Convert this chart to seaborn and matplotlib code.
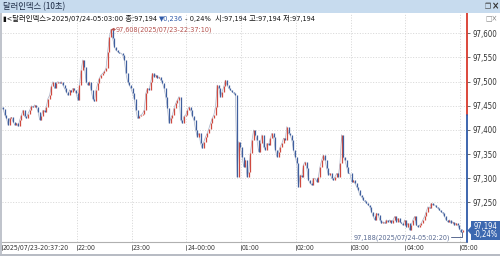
import numpy as np
import pandas as pd
import matplotlib
matplotlib.use("Agg")
import matplotlib.pyplot as plt
import seaborn as sns
from matplotlib.patches import Rectangle, Polygon
from matplotlib.transforms import blended_transform_factory, offset_copy

# ---------------- data ----------------
title = "달러인덱스 (10초)"
info_parts = ["▮<달러인덱스>2025/07/24-05:03:00 종:97,194 ", "▼0,236", " - 0,24%  시:97,194 고:97,194 저:97,194"]
start_time = "2025-07-23 20:37:20"
end_time = "2025-07-24 05:03:00"
prev_close = 97.430
last_price = 97.194
last_change = "-0,24%"
high_value = 97.608
high_time = "2025-07-23 22:37:10"
high_label = "97,608(2025/07/23-22:37:10)"
low_value = 97.188
low_time = "2025-07-24 05:02:20"
low_label = "97,188(2025/07/24-05:02:20)"

prices = [
    # 20:37 - 22:27
    97.447, 97.443, 97.431, 97.424, 97.410, 97.424, 97.426, 97.417, 97.410, 97.414,
    97.408, 97.421, 97.431, 97.441, 97.428, 97.424, 97.434, 97.441, 97.450, 97.447,
    97.452, 97.447, 97.438, 97.421, 97.428, 97.441, 97.438, 97.448, 97.465, 97.472,
    97.490, 97.500, 97.486, 97.497, 97.500, 97.497, 97.500, 97.493, 97.486, 97.479,
    97.472, 97.483, 97.479, 97.486, 97.483, 97.476, 97.462, 97.493, 97.524, 97.545,
    97.531, 97.500, 97.493, 97.500, 97.483, 97.465, 97.459, 97.483, 97.497, 97.507,
    97.514, 97.517, 97.521, 97.528, 97.562, 97.593, 97.608, 97.590, 97.572, 97.565,
    97.562, 97.559, 97.559,
    # 22:27 - 00:32
    97.555, 97.545, 97.517, 97.500, 97.493, 97.486, 97.476, 97.465, 97.441, 97.424,
    97.428, 97.431, 97.434, 97.441, 97.476, 97.486, 97.483, 97.500, 97.517, 97.510,
    97.514, 97.507, 97.510, 97.503, 97.497, 97.486, 97.469, 97.445, 97.414, 97.424,
    97.431, 97.445, 97.455, 97.462, 97.469, 97.421, 97.414, 97.428, 97.431, 97.441,
    97.448, 97.441, 97.428, 97.421, 97.400, 97.386, 97.393, 97.372, 97.362, 97.376,
    97.386, 97.393, 97.403, 97.414, 97.424, 97.431, 97.448, 97.493, 97.486, 97.469,
    97.479, 97.490, 97.503, 97.493, 97.486, 97.483, 97.479, 97.476, 97.472,
    # 00:32 - 02:38
    97.303, 97.376, 97.365, 97.345, 97.324, 97.338, 97.303, 97.314, 97.352, 97.379,
    97.400, 97.390, 97.379, 97.355, 97.372, 97.390, 97.365, 97.359, 97.372, 97.369,
    97.383, 97.393, 97.386, 97.359, 97.345, 97.355, 97.365, 97.372, 97.383, 97.379,
    97.407, 97.393, 97.390, 97.379, 97.359, 97.345, 97.331, 97.283, 97.307, 97.303,
    97.328, 97.334, 97.321, 97.296, 97.290, 97.286, 97.300, 97.300, 97.293, 97.303,
    97.324, 97.338, 97.348, 97.338, 97.321, 97.307, 97.310, 97.300, 97.296, 97.303,
    97.310, 97.303, 97.331, 97.390, 97.345, 97.338, 97.324, 97.310, 97.310,
    # 02:38 - 05:03
    97.293, 97.296, 97.290, 97.283, 97.276, 97.265, 97.262, 97.255, 97.252, 97.248,
    97.245, 97.241, 97.231, 97.221, 97.214, 97.228, 97.224, 97.214, 97.207, 97.210,
    97.207, 97.214, 97.210, 97.214, 97.207, 97.214, 97.221, 97.210, 97.217, 97.210,
    97.207, 97.203, 97.214, 97.200, 97.207, 97.193, 97.203, 97.214, 97.221, 97.203,
    97.200, 97.203, 97.207, 97.214, 97.221, 97.231, 97.241, 97.238, 97.248, 97.245,
    97.245, 97.241, 97.238, 97.234, 97.231, 97.228, 97.221, 97.214, 97.210, 97.214,
    97.207, 97.210, 97.203, 97.207, 97.203, 97.196, 97.188, 97.194,
]

x_tick_times = ["2025-07-23 20:37:20", "2025-07-23 22:00", "2025-07-23 23:00", "2025-07-24 00:00",
                "2025-07-24 01:00", "2025-07-24 02:00", "2025-07-24 03:00", "2025-07-24 04:00",
                "2025-07-24 05:00"]
x_tick_labels = ["2025/07/23-20:37:20", "22:00", "23:00", "24-00:00", "01:00", "02:00",
                 "03:00", "04:00", "05:00"]
y_ticks = [97.250, 97.300, 97.350, 97.400, 97.450, 97.500, 97.550, 97.600]
y_tick_labels = ["97,250", "97,300", "97,350", "97,400", "97,450", "97,500", "97,550", "97,600"]

# ---------------- style ----------------
sns.set_theme(style="white")
plt.rcParams["font.family"] = ["DejaVu Sans", "Noto Sans CJK KR"]
plt.rcParams["font.stretch"] = "condensed"

W, H = 500, 256
fig = plt.figure(figsize=(W / 100, H / 100), dpi=100)
fig.patch.set_facecolor("white")

def fx(px):
    return px / W

def fy(py):
    return 1 - py / H

RED = "#d9392c"
BLUE = "#2f5aa8"
GRID = "#cfcfcf"

# title bar
fig.patches.append(Rectangle((0, fy(12.5)), 1, 12.5 / H, transform=fig.transFigure,
                             facecolor="#c7dbee", edgecolor="none", zorder=0))
fig.text(fx(3), fy(6.5), title, fontsize=6.0, color="#1c2a44", va="center", ha="left",
         family=["Noto Sans CJK KR", "DejaVu Sans"])
fig.text(fx(488), fy(6.5), "❐", fontsize=5.5, color="#333333", va="center", ha="center",
         family=["DejaVu Sans"])
fig.text(fx(496), fy(6.5), "×", fontsize=7, color="#333333", va="center", ha="center",
         fontweight="bold", family=["DejaVu Sans"])

# axes
ax_left, ax_right, ax_top, ax_bottom = 1.5, 467, 13, 242
ax = fig.add_axes([fx(ax_left), fy(ax_bottom), fx(ax_right - ax_left), (ax_bottom - ax_top) / H])
ax.set_facecolor("white")

times = pd.date_range(pd.Timestamp(start_time), pd.Timestamp(end_time), periods=len(prices))
df = pd.DataFrame({"time": times, "price": prices})
df["prev"] = df["price"].shift(1).fillna(df["price"].iloc[0])
df["dir"] = np.where(df["price"] >= df["prev"], "up", "down")

sns.lineplot(data=df, x="time", y="price", ax=ax, color="#a7b1c8", lw=0.5, zorder=2)
for d, c in (("up", "#cf4a40"), ("down", "#3f5f9e")):
    sub = df[df["dir"] == d]
    ax.vlines(sub["time"], sub["prev"], sub["price"], colors=c, lw=0.9, zorder=3)

t0 = pd.Timestamp(start_time)
ax.set_xlim(t0, t0 + pd.Timedelta(hours=8.506))
ymax = 97.600 + (33.3 - ax_top) / 483.3
ymin = 97.600 - (ax_bottom - 33.3) / 483.3
ax.set_ylim(ymin, ymax)

# grid
for yv in y_ticks:
    ax.axhline(yv, color=GRID, lw=0.6, ls=(0, (1.2, 2)), zorder=1)
for tt in x_tick_times[1:]:
    ax.axvline(pd.Timestamp(tt), color=GRID, lw=0.6, ls=(0, (1.2, 2)), zorder=1)

# y axis on right
ax.yaxis.tick_right()
ax.set_yticks(y_ticks)
ax.set_yticklabels(y_tick_labels)
ax.tick_params(axis="y", length=2.5, width=0.6, color="#555555", pad=1.5, labelsize=5.7,
               labelcolor="#333333", right=True, left=False)
ax.set_xticks([pd.Timestamp(t) for t in x_tick_times])
ax.set_xticklabels([])
ax.tick_params(axis="x", length=0)
ax.set_xlabel("")
ax.set_ylabel("")

for s in ("top", "right", "left"):
    ax.spines[s].set_visible(False)
ax.spines["bottom"].set_color("#b0b0b0")
ax.spines["bottom"].set_linewidth(0.8)

# x labels with small ticks
bt = blended_transform_factory(ax.transData, ax.transAxes)
for tt, lab in zip(x_tick_times, x_tick_labels):
    tx = pd.Timestamp(tt)
    ax.plot([tx, tx], [-0.012, -0.035], transform=bt, color="#666666", lw=0.6, clip_on=False)
    ax.text(tx, -0.028, lab, transform=offset_copy(bt, fig=fig, x=1.0, y=0, units="dots"),
            ha="left", va="center", fontsize=5.0, color="#333333", clip_on=False)

# right edge split line (above/below previous close)
xr = t0 + pd.Timedelta(hours=8.506)
ax.plot([xr, xr], [prev_close, ymax + 0.006], color=RED, lw=1.3, clip_on=False, zorder=5)
ax.plot([xr, xr], [ymin, prev_close], color=BLUE, lw=1.3, clip_on=False, zorder=5)

# high annotation
ht = pd.Timestamp(high_time)
ax.annotate("", xy=(ht, high_value), xytext=(ht + pd.Timedelta(minutes=5), high_value),
            arrowprops=dict(arrowstyle="-|>", color="#b5524e", lw=0.7, mutation_scale=4,
                            shrinkA=0, shrinkB=0), zorder=4)
ax.text(ht + pd.Timedelta(minutes=5.3), high_value, high_label, fontsize=5.2, color="#b5524e",
        va="center", ha="left", zorder=4)

# low annotation
lt = pd.Timestamp(low_time)
ly = 97.178
ax.plot([lt - pd.Timedelta(minutes=12), lt, lt], [ly, ly, low_value], color="#5a6b92", lw=0.7,
        zorder=4, clip_on=False)
ax.text(lt - pd.Timedelta(minutes=13), ly, low_label, fontsize=5.2, color="#5a6b92",
        va="center", ha="right", zorder=4)

# price box
box_top, box_bot = 221, 240
fig.patches.append(Rectangle((fx(471), fy(box_bot)), fx(500 - 471), (box_bot - box_top) / H,
                             transform=fig.transFigure, facecolor="#3c68b0", edgecolor="none", zorder=6))
fig.patches.append(Polygon([[fx(467.5), fy(230.5)], [fx(471.5), fy(226)], [fx(471.5), fy(235)]],
                           closed=True, transform=fig.transFigure, facecolor="#3c68b0",
                           edgecolor="none", zorder=6))
fig.text(fx(486), fy(226), f"{last_price:.3f}".replace(".", ","), fontsize=5.5, color="white",
         ha="center", va="center", zorder=7)
fig.text(fx(486), fy(235), last_change, fontsize=5.5, color="white", ha="center", va="center", zorder=7)

# small box icon top-right of chart
fig.text(fx(491), fy(18), "□×", fontsize=5.5, color="#888888", ha="center", va="center",
         family=["DejaVu Sans"])

# info line
renderer = fig.canvas.get_renderer()
xpos = fx(3)
colors = ["#111111", BLUE, "#111111"]
for part, col in zip(info_parts, colors):
    t = fig.text(xpos, fy(18.5), part, fontsize=5.3, color=col, ha="left", va="center")
    bb = t.get_window_extent(renderer)
    xpos = bb.x1 / W

# borders
fig.patches.append(Rectangle((0, fy(256)), fx(1.5), 243 / H, transform=fig.transFigure,
                             facecolor="#c0c4cc", edgecolor="none", zorder=6))
fig.patches.append(Rectangle((0, 0), 1, 2 / H, transform=fig.transFigure,
                             facecolor="#b8bcc4", edgecolor="none", zorder=6))

fig.savefig("out.png", dpi=100, facecolor="white")
